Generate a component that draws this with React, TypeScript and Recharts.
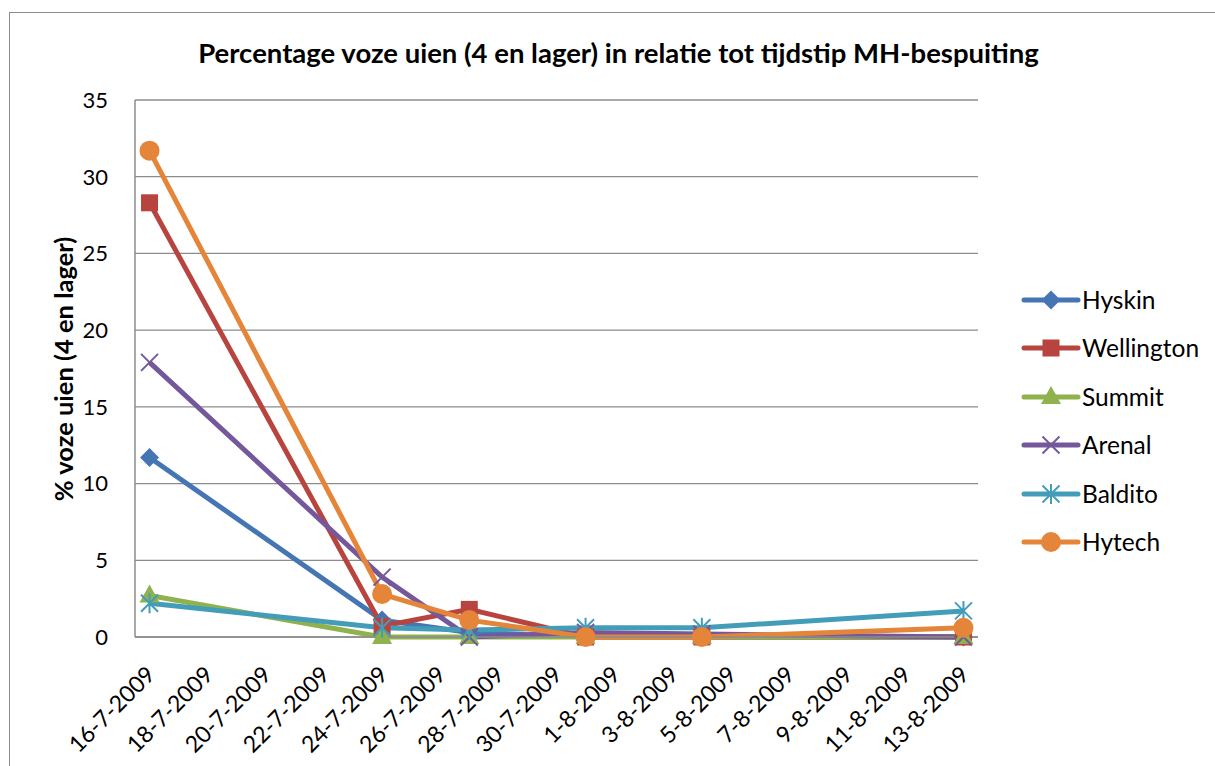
import { LineChart, Line, XAxis, YAxis, CartesianGrid } from "recharts";

// meetdata (% voze uien, 4 en lager)
const dates = ["16-7-2009", "24-7-2009", "27-7-2009", "31-7-2009", "4-8-2009", "13-8-2009"];
const hyskin = [11.7, 1.1, 0.3, 0, 0, 0];
const wellington = [28.3, 0.7, 1.8, 0, 0, 0];
const summit = [2.7, 0, 0, 0, 0, 0];
const arenal = [17.9, 3.9, 0, 0.3, 0.2, 0];
const baldito = [2.2, 0.6, 0.45, 0.6, 0.6, 1.7];
const hytech = [31.7, 2.8, 1.1, 0, 0, 0.6];

const tickLabels = [
  "16-7-2009", "18-7-2009", "20-7-2009", "22-7-2009", "24-7-2009",
  "26-7-2009", "28-7-2009", "30-7-2009", "1-8-2009", "3-8-2009",
  "5-8-2009", "7-8-2009", "9-8-2009", "11-8-2009", "13-8-2009",
];
const yTicks = [0, 5, 10, 15, 20, 25, 30, 35];

type MarkerType = "diamond" | "square" | "triangle" | "x" | "star" | "circle";

const series: { name: string; values: number[]; color: string; marker: MarkerType }[] = [
  { name: "Hyskin", values: hyskin, color: "#4675B3", marker: "diamond" },
  { name: "Wellington", values: wellington, color: "#B8443F", marker: "square" },
  { name: "Summit", values: summit, color: "#8FB24D", marker: "triangle" },
  { name: "Arenal", values: arenal, color: "#74589B", marker: "x" },
  { name: "Baldito", values: baldito, color: "#439DB9", marker: "star" },
  { name: "Hytech", values: hytech, color: "#E5853A", marker: "circle" },
];

const FONT = "Lato, 'Noto Sans', sans-serif";

function toDay(label: string) {
  const [d, m, y] = label.split("-").map(Number);
  return Math.round((Date.UTC(y, m - 1, d) - Date.UTC(2009, 6, 16)) / 86400000);
}

const tickDays = tickLabels.map(toDay);
const lastDay = tickDays[tickDays.length - 1];

const data = dates.map((date, i) => {
  const row: Record<string, number> = { day: toDay(date) };
  series.forEach((s) => (row[s.name] = s.values[i]));
  return row;
});

function Marker({ type, cx, cy, color }: { type: MarkerType; cx: number; cy: number; color: string }) {
  switch (type) {
    case "diamond":
      return <polygon points={`${cx},${cy - 9.5} ${cx + 9.5},${cy} ${cx},${cy + 9.5} ${cx - 9.5},${cy}`} fill={color} />;
    case "square":
      return <rect x={cx - 8.5} y={cy - 8.5} width={17} height={17} fill={color} />;
    case "triangle":
      return <polygon points={`${cx},${cy - 11} ${cx + 10},${cy + 7} ${cx - 10},${cy + 7}`} fill={color} />;
    case "x":
      return (
        <path
          d={`M${cx - 8.5},${cy - 8.5}L${cx + 8.5},${cy + 8.5}M${cx + 8.5},${cy - 8.5}L${cx - 8.5},${cy + 8.5}`}
          stroke={color}
          strokeWidth={2}
        />
      );
    case "star":
      return (
        <path
          d={`M${cx - 8.5},${cy - 8.5}L${cx + 8.5},${cy + 8.5}M${cx + 8.5},${cy - 8.5}L${cx - 8.5},${cy + 8.5}M${cx},${cy - 10}L${cx},${cy + 10}`}
          stroke={color}
          strokeWidth={2}
        />
      );
    default:
      return <circle cx={cx} cy={cy} r={10} fill={color} />;
  }
}

function DateTick({ x, y, payload }: any) {
  const label = tickLabels[tickDays.indexOf(payload.value)] ?? "";
  const ax = x + 7;
  const ay = y + 39;
  return (
    <text
      x={ax}
      y={ay}
      transform={`rotate(-45 ${ax} ${ay})`}
      textAnchor="end"
      fill="#000"
      fontSize={23}
      fontFamily={FONT}
    >
      {label}
    </text>
  );
}

export default function App() {
  return (
    <div style={{ position: "fixed", left: 0, top: 0, width: 1215, height: 766, overflow: "hidden", background: "#fff" }}>
      <div
        style={{
          position: "absolute",
          left: 9,
          top: 12,
          width: 1240,
          height: 800,
          border: "1.5px solid #8c8c8c",
        }}
      />
      <div
        style={{
          position: "absolute",
          left: 0,
          width: 1237,
          top: 36,
          textAlign: "center",
          fontFamily: FONT,
          fontWeight: 700,
          fontSize: 27.5,
          lineHeight: "34px",
        }}
      >
        Percentage voze uien (4 en lager) in relatie tot tijdstip MH-bespuiting
      </div>
      <div
        style={{
          position: "absolute",
          left: 63 - 200,
          top: 369 - 15,
          width: 400,
          lineHeight: "30px",
          textAlign: "center",
          transform: "rotate(-90deg)",
          fontFamily: FONT,
          fontWeight: 700,
          fontSize: 25.5,
        }}
      >
        % voze uien (4 en lager)
      </div>
      <div style={{ position: "absolute", left: 0, top: 0 }}>
        <LineChart width={1215} height={766} data={data} margin={{ top: 100, right: 237, bottom: 29, left: 75 }}>
          <CartesianGrid vertical={false} stroke="#8c8c8c" strokeWidth={1.3} />
          <XAxis
            dataKey="day"
            type="number"
            domain={[-0.5, lastDay + 0.5]}
            ticks={tickDays}
            interval={0}
            height={100}
            tickSize={0}
            tickMargin={0}
            tickLine={false}
            axisLine={{ stroke: "#8c8c8c", strokeWidth: 1.5 }}
            tick={<DateTick />}
          />
          <YAxis
            domain={[0, 35]}
            ticks={yTicks}
            width={60}
            tickSize={0}
            tickMargin={27}
            tickLine={false}
            axisLine={{ stroke: "#8c8c8c", strokeWidth: 1.5 }}
            tick={{ fill: "#000", fontSize: 22, fontFamily: FONT }}
          />
          {series.map((s) => (
            <Line
              key={s.name}
              type="linear"
              dataKey={s.name}
              stroke={s.color}
              strokeWidth={5}
              isAnimationActive={false}
              dot={(p: any) => <Marker key={`${s.name}-${p.index}`} type={s.marker} cx={p.cx} cy={p.cy} color={s.color} />}
              activeDot={false}
            />
          ))}
        </LineChart>
      </div>
      {series.map((s, i) => {
        const cy = 300 + i * 48.4;
        return (
          <div key={s.name} style={{ position: "absolute", left: 1020, top: cy - 15, height: 30, display: "flex", alignItems: "center" }}>
            <svg width={62} height={30} style={{ display: "block" }}>
              <line x1={4} y1={15} x2={58} y2={15} stroke={s.color} strokeWidth={5} strokeLinecap="round" />
              <Marker type={s.marker} cx={31} cy={15} color={s.color} />
            </svg>
            <span style={{ fontFamily: FONT, fontSize: 24.5, marginLeft: 0, lineHeight: "30px" }}>{s.name}</span>
          </div>
        );
      })}
    </div>
  );
}
